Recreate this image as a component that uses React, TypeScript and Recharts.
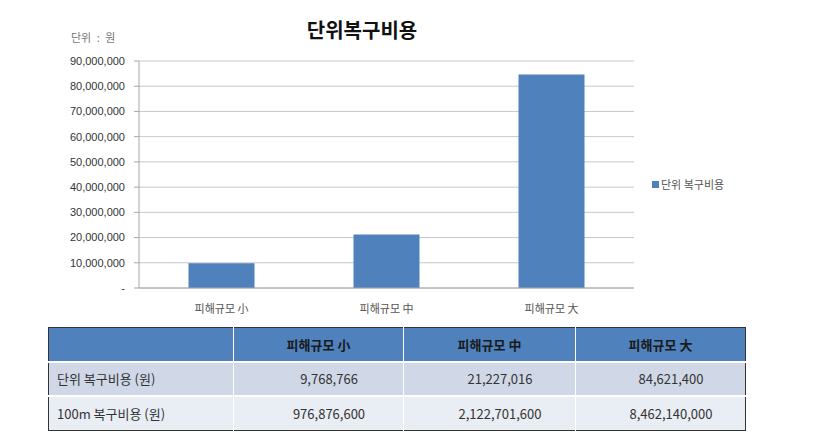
import { BarChart, Bar, XAxis, YAxis, CartesianGrid } from "recharts";

const categories = ["피해규모 小", "피해규모 中", "피해규모 大"];
const unitCost = [9768766, 21227016, 84621400];
const cost100m = [976876600, 2122701600, 8462140000];
const yTicks = [0, 10000000, 20000000, 30000000, 40000000, 50000000, 60000000, 70000000, 80000000, 90000000];
const seriesName = "단위 복구비용";
const rowLabels = ["단위 복구비용 (원)", "100m 복구비용 (원)"];

const data = categories.map((name, i) => ({ name, value: unitCost[i] }));

const FONT = "'Noto Sans CJK KR', 'Noto Sans', sans-serif";
const BLUE = "#4F81BD";

export default function App() {
  const rows = [unitCost, cost100m];
  const rowBg = ["#D0D8E8", "#E9EDF4"];
  return (
    <div
      style={{
        position: "absolute",
        left: 0,
        top: 0,
        width: 815,
        height: 443,
        background: "#fff",
        fontFamily: FONT,
      }}
    >
      <div
        style={{
          position: "absolute",
          left: 262,
          width: 200,
          top: 15,
          textAlign: "center",
          fontSize: 20,
          fontWeight: 700,
          color: "#111",
        }}
      >
        단위복구비용
      </div>
      <div style={{ position: "absolute", left: 71, top: 29, fontSize: 11, color: "#777", wordSpacing: 3 }}>
        단위 : 원
      </div>

      <BarChart
        width={815}
        height={320}
        data={data}
        margin={{ top: 61, right: 181, left: 0, bottom: 0 }}
        barCategoryGap="30%"
      >
        <CartesianGrid vertical={false} stroke="#c8c8c8" />
        <XAxis
          dataKey="name"
          height={32}
          tickLine={false}
          axisLine={{ stroke: "#a6a6a6" }}
          tick={{ fontSize: 11, fill: "#555", fontFamily: FONT }}
          tickMargin={11}
        />
        <YAxis
          width={139}
          domain={[0, 90000000]}
          ticks={yTicks}
          interval={0}
          axisLine={{ stroke: "#a6a6a6" }}
          tickLine={{ stroke: "#a6a6a6" }}
          tickSize={5}
          tickMargin={9}
          tick={{ fontSize: 11, fill: "#333", fontFamily: "'Liberation Sans', Arial, sans-serif" }}
          tickFormatter={(v: number) => (v === 0 ? "-" : v.toLocaleString("en-US"))}
        />
        <Bar dataKey="value" name={seriesName} fill={BLUE} isAnimationActive={false} />
      </BarChart>

      <div
        style={{
          position: "absolute",
          left: 652,
          top: 176,
          fontSize: 11,
          color: "#555",
          display: "flex",
          alignItems: "center",
        }}
      >
        <span style={{ display: "inline-block", width: 7, height: 7, background: BLUE, marginRight: 2 }} />
        {seriesName}
      </div>

      <table
        style={{
          position: "absolute",
          left: 48,
          top: 327,
          width: 697,
          height: 104,
          borderCollapse: "collapse",
          border: "1.5px solid #333",
          fontSize: 13,
          fontFamily: FONT,
          tableLayout: "fixed",
        }}
      >
        <colgroup>
          <col style={{ width: 185 }} />
          <col style={{ width: 170 }} />
          <col style={{ width: 172 }} />
          <col style={{ width: 170 }} />
        </colgroup>
        <thead>
          <tr style={{ background: BLUE, height: 34 }}>
            <th style={{ borderRight: "1px solid #fff" }} />
            {categories.map((c, i) => (
              <th
                key={c}
                style={{
                  color: "#1a1a1a",
                  fontWeight: 700,
                  fontSize: 13,
                  textAlign: "center",
                  borderRight: i < 2 ? "1px solid #fff" : undefined,
                }}
              >
                {c}
              </th>
            ))}
          </tr>
        </thead>
        <tbody>
          {rows.map((vals, r) => (
            <tr key={r} style={{ background: rowBg[r], height: 34, borderTop: "2px solid #fff" }}>
              <td style={{ paddingLeft: 8, color: "#333", borderRight: "1px solid #fff" }}>{rowLabels[r]}</td>
              {vals.map((v, i) => (
                <td
                  key={i}
                  style={{
                    textAlign: "center",
                    paddingLeft: 22,
                    color: "#333",
                    borderRight: i < 2 ? "1px solid #fff" : undefined,
                  }}
                >
                  {v.toLocaleString("en-US")}
                </td>
              ))}
            </tr>
          ))}
        </tbody>
      </table>
    </div>
  );
}
